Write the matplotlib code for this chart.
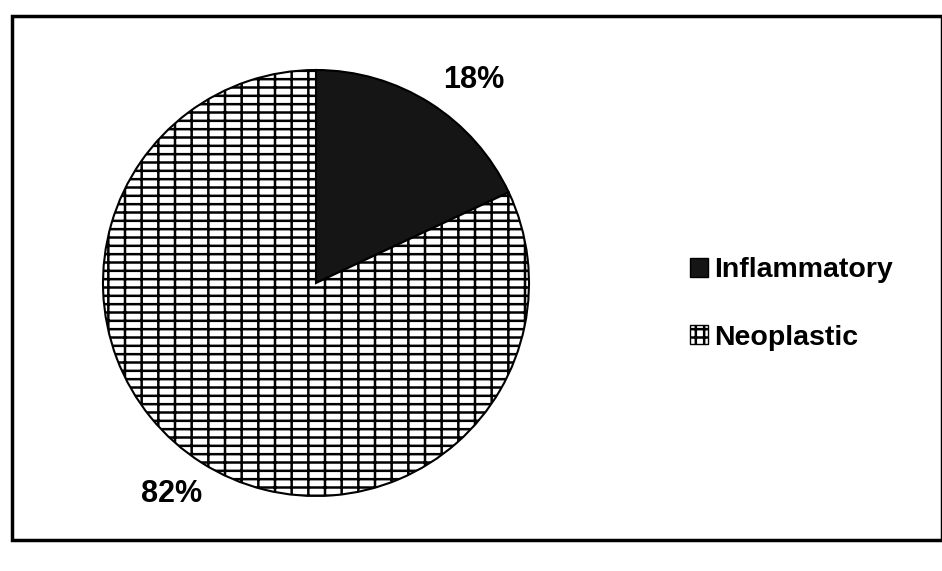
import matplotlib
matplotlib.use("Agg")
import matplotlib.pyplot as plt
from matplotlib.patches import Rectangle, Patch

categories = ["Inflammatory", "Neoplastic"]
values = [18, 82]
labels = ["18%", "82%"]

plt.rcParams['font.family'] = ['Liberation Sans', 'DejaVu Sans']
plt.rcParams['hatch.linewidth'] = 1.8

fig = plt.figure(figsize=(9.42, 5.71), dpi=100)
fig.patch.set_facecolor('white')

cx, cy, r = 316 / 942, 1 - 283 / 571, 213
ax = fig.add_axes([cx - r / 942, cy - r / 571, 2 * r / 942, 2 * r / 571])
wedges, _ = ax.pie(values, startangle=90, counterclock=False,
                   colors=['#151515', 'white'],
                   wedgeprops=dict(edgecolor='black', linewidth=1.5))
wedges[1].set_hatch('--|')
ax.set_xlim(-1.0, 1.0)
ax.set_ylim(-1.0, 1.0)
ax.set_aspect('equal')
ax.axis('off')

fig.text(474 / 942, 1 - 80 / 571, labels[0], fontsize=22, fontweight='semibold',
         ha='center', va='center')
fig.text(172 / 942, 1 - 494 / 571, labels[1], fontsize=22, fontweight='semibold',
         ha='center', va='center')

handles = [Patch(facecolor='#151515', edgecolor='black'),
           Patch(facecolor='white', edgecolor='black', hatch='++')]
fig.legend(handles, categories, loc='center left',
           bbox_to_anchor=(664 / 942, 1 - 304 / 571), frameon=False,
           prop=dict(size=20.5, weight='semibold'), labelspacing=1.45,
           handlelength=0.65, handleheight=0.65, handletextpad=0.2)

fig.add_artist(Rectangle((12 / 942, 1 - 540 / 571), 930 / 942, (540 - 16) / 571,
                         transform=fig.transFigure, fill=False,
                         edgecolor='black', linewidth=2.5))

fig.savefig('out.png', dpi=100)
